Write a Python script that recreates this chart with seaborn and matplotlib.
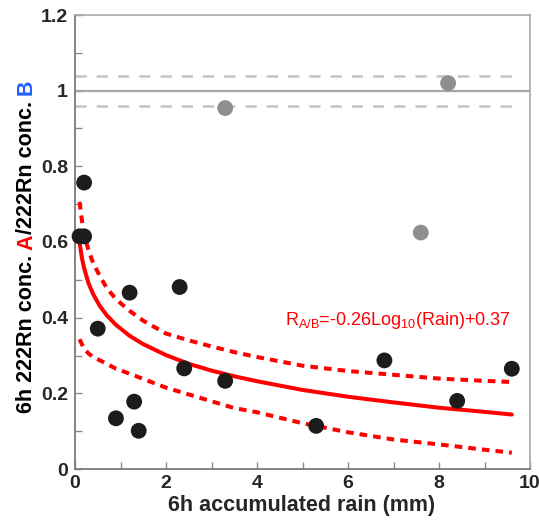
import numpy as np
import pandas as pd
import seaborn as sns
import matplotlib
matplotlib.use('Agg')
import matplotlib.pyplot as plt

# measured rain vs ratio (black = used in fit, gray = outliers)
rain_fit = [0.1, 0.2, 0.2, 0.5, 0.9, 1.2, 1.3, 1.4, 2.3, 2.4, 3.3, 5.3, 6.8, 8.4, 9.6]
ratio_fit = [0.615, 0.615, 0.757, 0.371, 0.134, 0.466, 0.178, 0.101, 0.481, 0.266,
             0.233, 0.114, 0.287, 0.180, 0.265]
rain_out = [3.3, 7.6, 8.2]
ratio_out = [0.954, 0.625, 1.020]

# fitted curve and its band
curve_x = [0.1, 0.15, 0.2, 0.3, 0.4, 0.55, 0.7, 0.9, 1.2, 1.5, 2, 2.5, 3, 3.5, 4,
           5, 6, 7, 8, 9, 9.6]
curve_fit = [0.600, 0.559, 0.531, 0.490, 0.462, 0.430, 0.406, 0.381, 0.352, 0.330,
             0.301, 0.278, 0.260, 0.245, 0.232, 0.209, 0.191, 0.176, 0.162, 0.151, 0.144]
curve_upper = [0.706, 0.659, 0.620, 0.577, 0.544, 0.509, 0.478, 0.449, 0.418, 0.392,
               0.358, 0.340, 0.324, 0.309, 0.296, 0.273, 0.259, 0.249, 0.239, 0.233, 0.230]
curve_lower = [0.343, 0.330, 0.318, 0.305, 0.296, 0.287, 0.278, 0.265, 0.252, 0.238,
               0.215, 0.197, 0.179, 0.161, 0.150, 0.121, 0.097, 0.078, 0.065, 0.051, 0.043]

ref_line = 1.0
ref_band = [0.96, 1.04]

x_ticks = [0, 2, 4, 6, 8, 10]
x_labels = ['0', '2', '4', '6', '8', '10']
y_ticks = [0, 0.2, 0.4, 0.6, 0.8, 1.0, 1.2]
y_labels = ['0', '0.2', '0.4', '0.6', '0.8', '1', '1.2']

ylabel_parts = ['6h 222Rn conc. ', 'A', '/222Rn conc. ', 'B']
ylabel_colors = ['black', '#ff0000', 'black', '#1f5fff']
xlabel = '6h accumulated rain (mm)'
equation = 'R$_{A/B}$=-0.26Log$_{10}$(Rain)+0.37'

LABEL_SIZE = 15.5
TICK_SIZE = 14


def main():
    sns.set_theme(style='white')
    plt.rcParams['font.family'] = ['Liberation Sans', 'DejaVu Sans']
    plt.rcParams['mathtext.default'] = 'regular'

    W, H = 539, 527
    fig = plt.figure(figsize=(W / 100, H / 100), dpi=100)
    ax = fig.add_axes([75 / W, 58 / H, 455 / W, 454 / H])

    curves = pd.DataFrame({'x': curve_x, 'fit': curve_fit,
                           'upper': curve_upper, 'lower': curve_lower})

    ax.axhline(ref_line, color='#a6a6a6', lw=1.6, zorder=1)
    for yb in ref_band:
        ax.axhline(yb, xmax=0.98, color='#c4c4c4', lw=1.8,
                   linestyle=(0, (4.5, 4)), zorder=1)

    sns.lineplot(data=curves, x='x', y='fit', ax=ax, color='#ff0000', lw=2.9,
                 zorder=2)
    for col in ['upper', 'lower']:
        sns.lineplot(data=curves, x='x', y=col, ax=ax, color='#ff0000', lw=2.9,
                     linestyle=(0, (1.9, 1.5)), zorder=2)

    sns.scatterplot(x=rain_out, y=ratio_out, ax=ax, color='#8f8f8f', s=130,
                    edgecolor='none', zorder=3, clip_on=False)
    sns.scatterplot(x=rain_fit, y=ratio_fit, ax=ax, color='#1c1c1c', s=130,
                    edgecolor='none', zorder=4, clip_on=False)

    ax.set_xlim(0, 10)
    ax.set_ylim(0, 1.2)
    ax.set_xticks(x_ticks)
    ax.set_xticklabels(x_labels)
    ax.set_yticks(y_ticks)
    ax.set_yticklabels(y_labels)
    ax.set_xticks(np.arange(1, 10, 2), minor=True)
    ax.set_yticks(np.arange(0.1, 1.2, 0.2), minor=True)
    ax.tick_params(which='both', direction='in', length=5, width=1,
                   color='#8a8a8a', left=True, bottom=True)
    ax.tick_params(axis='y', pad=5, labelsize=TICK_SIZE)
    ax.tick_params(axis='x', pad=4, labelsize=TICK_SIZE)
    for lab in ax.get_xticklabels() + ax.get_yticklabels():
        lab.set_fontweight('bold')
    ax.set_xlabel('')
    ax.set_ylabel('')
    for side in ['left', 'bottom']:
        ax.spines[side].set_color('#7a7a7a')
        ax.spines[side].set_linewidth(1.3)
    for side in ['top', 'right']:
        ax.spines[side].set_color('#a8a8a8')
        ax.spines[side].set_linewidth(1.2)
    if ax.get_legend() is not None:
        ax.get_legend().remove()

    ax.text(4.62, 0.381, equation, color='#ff0000', fontsize=13, va='baseline')

    fig.text(302 / W, (H - 511) / H, xlabel, ha='center', va='baseline',
             fontsize=LABEL_SIZE, fontweight='bold')

    # multi-coloured y label built piece by piece
    renderer = fig.canvas.get_renderer()

    def width(s):
        t = fig.text(0, 0, s, fontsize=LABEL_SIZE, fontweight='bold')
        w = t.get_window_extent(renderer).width
        t.remove()
        return w

    full = ''.join(ylabel_parts)
    total = width(full)
    y0 = (H - 246.5) - total / 2
    for i, (part, col) in enumerate(zip(ylabel_parts, ylabel_colors)):
        start = width(''.join(ylabel_parts[:i + 1])) - width(part)
        fig.text(32 / W, (y0 + start) / H, part, rotation=90,
                 rotation_mode='anchor', ha='left', va='baseline',
                 fontsize=LABEL_SIZE, fontweight='bold', color=col)

    fig.savefig('out.png', dpi=100)


if __name__ == '__main__':
    main()
